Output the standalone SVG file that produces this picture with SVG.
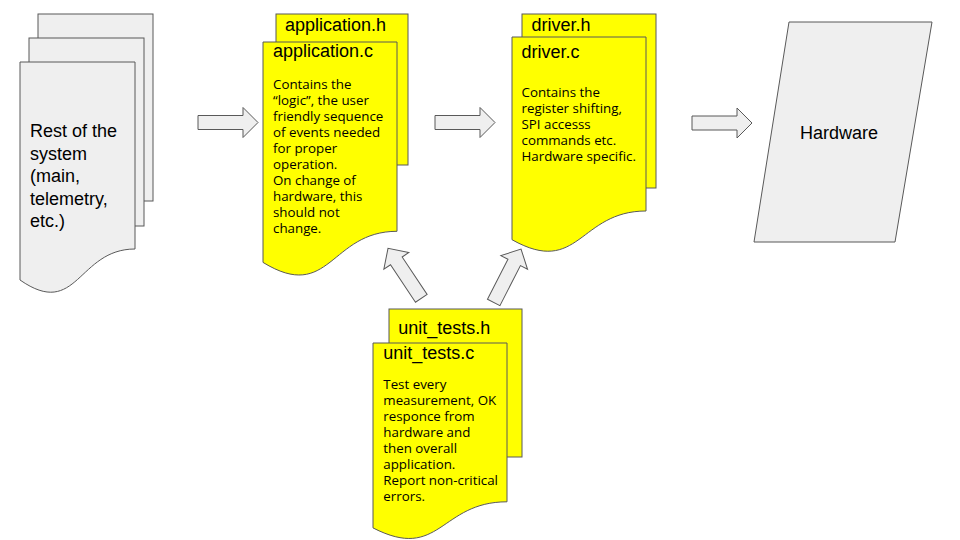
<svg xmlns="http://www.w3.org/2000/svg" width="960" height="540" viewBox="0 0 960 540">
<style>
.gray{fill:#efefef;stroke:#595959;stroke-width:1}
.yel{fill:#ffff00;stroke:#595959;stroke-width:1}
.big{font-family:"Liberation Sans",Arial,sans-serif;font-size:18px;fill:#000}
.body{font-family:"Open Sans","Noto Sans",sans-serif;font-size:13.33px;fill:#000}
</style>
<defs>
<path id="arr" d="M0,-7 H45 V-15 L60,0 L45,15 V7 H0 Z"/>
</defs>
<rect width="960" height="540" fill="#fff"/>
<g id="rest">
<rect class="gray" x="38" y="14" width="115" height="187"/>
<rect class="gray" x="29" y="38" width="115" height="188"/>
<path class="gray" d="M20,62 H135 V249 C77.5,249 77.5,320 20,280 Z"/>
<text class="big" x="30" y="137">Rest of the</text>
<text class="big" x="30" y="159.5">system</text>
<text class="big" x="30" y="182">(main,</text>
<text class="big" x="30" y="204.5">telemetry,</text>
<text class="big" x="30" y="227">etc.)</text>
</g>
<g id="application">
<rect class="yel" x="276" y="14" width="132" height="151"/>
<text class="big" x="285" y="30.5">application.h</text>
<path class="yel" d="M263,42 H397 V231.3 C330,231.3 330,303.4 263,262.4 Z"/>
<text class="big" x="273" y="56.5">application.c</text>
<text class="body" x="273" y="89.3">Contains the</text>
<text class="body" x="273" y="105.3">“logic”, the user</text>
<text class="body" x="273" y="121.3">friendly sequence</text>
<text class="body" x="273" y="137.3">of events needed</text>
<text class="body" x="273" y="153.3">for proper</text>
<text class="body" x="273" y="169.3">operation.</text>
<text class="body" x="273" y="185.3">On change of</text>
<text class="body" x="273" y="201.3">hardware, this</text>
<text class="body" x="273" y="217.3">should not</text>
<text class="body" x="273" y="233.3">change.</text>
</g>
<g id="driver">
<rect class="yel" x="522" y="14" width="134" height="174"/>
<text class="big" x="531.5" y="30.5">driver.h</text>
<path class="yel" d="M512,37 H646 V211 C579,211 579,277.3 512,239.7 Z"/>
<text class="big" x="521.5" y="58">driver.c</text>
<text class="body" x="521.5" y="97">Contains the</text>
<text class="body" x="521.5" y="113">register shifting,</text>
<text class="body" x="521.5" y="129">SPI accesss</text>
<text class="body" x="521.5" y="145">commands etc.</text>
<text class="body" x="521.5" y="161">Hardware specific.</text>
</g>
<g id="unit_tests">
<rect class="yel" x="389" y="309" width="133" height="148"/>
<text class="big" x="398.3" y="334.3">unit_tests.h</text>
<path class="yel" d="M373,343 H507 V501.8 C440,501.8 440,562.3 373,527.9 Z"/>
<text class="big" x="383.3" y="359.3">unit_tests.c</text>
<text class="body" x="383.3" y="389.3">Test every</text>
<text class="body" x="383.3" y="405.3">measurement, OK</text>
<text class="body" x="383.3" y="421.3">responce from</text>
<text class="body" x="383.3" y="437.3">hardware and</text>
<text class="body" x="383.3" y="453.3">then overall</text>
<text class="body" x="383.3" y="469.3">application.</text>
<text class="body" x="383.3" y="485.3">Report non-critical</text>
<text class="body" x="383.3" y="501.3">errors.</text>
</g>
<g id="hardware">
<polygon class="gray" points="789,22 932,22 895,242 754,242"/>
<text class="big" x="839" y="139" text-anchor="middle">Hardware</text>
</g>
<g id="connectors">
<use href="#arr" class="gray" transform="translate(198,122.5)"/>
<use href="#arr" class="gray" transform="translate(435,122.5)"/>
<use href="#arr" class="gray" transform="translate(692,123)"/>
<use href="#arr" class="gray" transform="translate(421.3,298.3) rotate(-123.7)"/>
<use href="#arr" class="gray" transform="translate(493.7,302.5) rotate(-62.9)"/>
</g>
</svg>
